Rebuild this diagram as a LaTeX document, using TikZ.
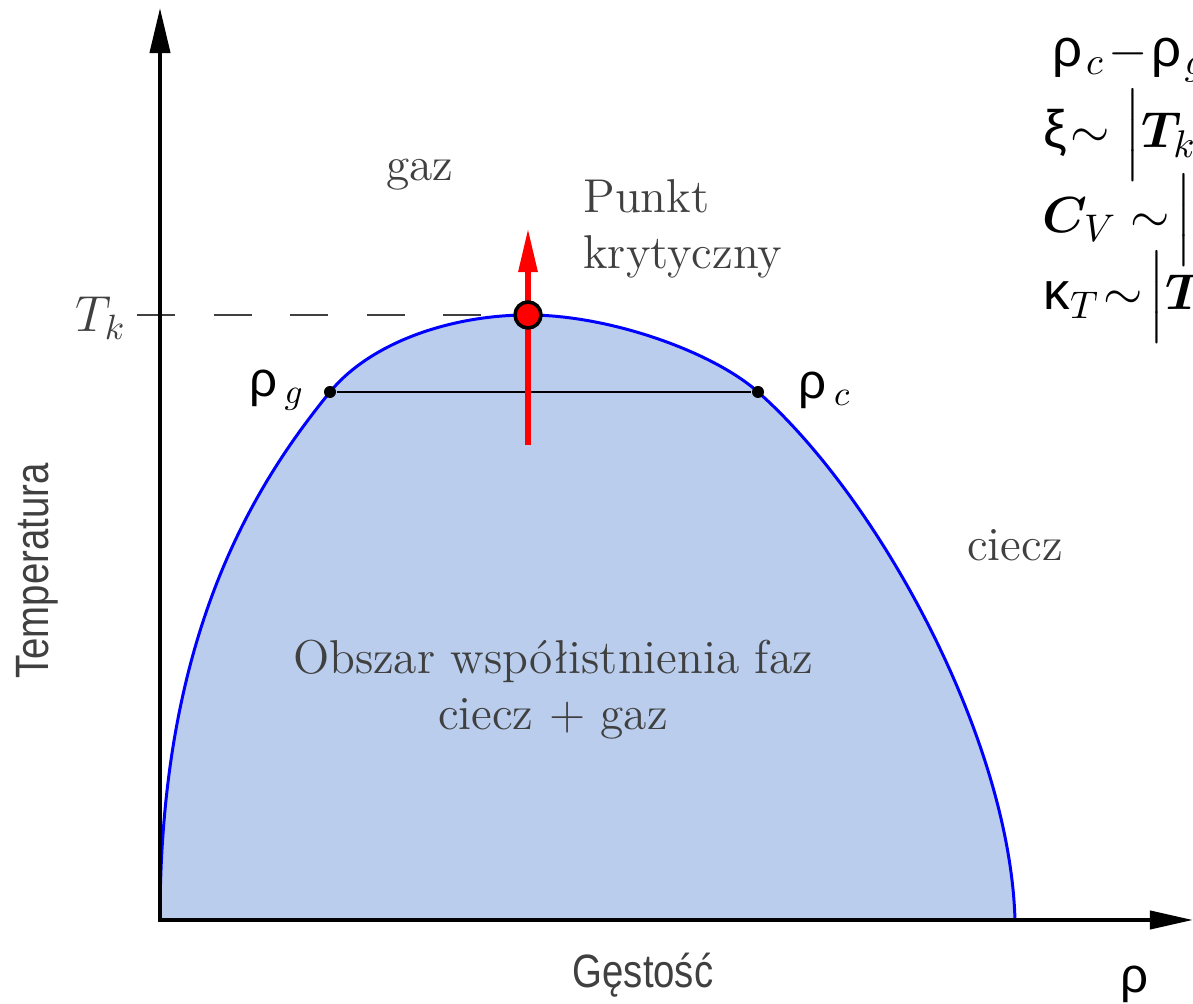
\documentclass[tikz,border=0pt]{standalone}
\usepackage{fontspec}
\usepackage{amsmath}
\usepackage{bm}
\usepackage{xcolor}
\usepackage{tikz}
\usetikzlibrary{positioning, arrows.meta}
\newfontfamily\narrowsans[FakeStretch=0.82]{Liberation Sans}
\newfontfamily\greekfont{Liberation Sans}
\definecolor{phaseblue}{HTML}{BACDEC}
\definecolor{textgray}{HTML}{404040}

\begin{document}
\begin{tikzpicture}[x=0.01cm, y=-0.01cm,
    region/.style={text=textgray, font=\fontsize{13.5}{16}\selectfont, align=center},
    axislabel/.style={text=textgray, font=\narrowsans\fontsize{13.3}{16}\selectfont},
    rholabel/.style={font=\fontsize{14}{17}\selectfont},
    law/.style={anchor=base west, inner sep=0pt, font=\fontsize{15}{18}\selectfont},
    enddot/.style={circle, fill=black, minimum size=0.12cm, inner sep=0pt},
    critdot/.style={circle, fill=red, draw=black, line width=1pt, minimum size=0.26cm, inner sep=0pt}]
  \useasboundingbox (0,0) rectangle (1193,1004);

  % coexistence region
  \path[fill=phaseblue, draw=blue, line width=0.85pt]
    (160,920) .. controls (160,640) and (250,490) .. (330,392)
    .. controls (370,343) and (450,315) .. (528,315)
    .. controls (610,315) and (713,352) .. (758,392)
    .. controls (880,500) and (1010,740) .. (1015,920);

  \coordinate (origin) at (160,920);
  \coordinate (ytop) at (160,8);
  \coordinate (xend) at (1193,920);
  \coordinate (tick) at (137,315);
  \coordinate (redbase) at (528,445);
  \coordinate (redtip) at (528,228);

  \node[enddot] (rhog) at (330,392) {};
  \node[enddot] (rhoc) at (758,392) {};
  \draw[line width=0.6pt] (rhog) -- (rhoc);

  \draw[textgray, line width=0.5pt, dash pattern=on 0.38cm off 0.385cm] (tick) -- (520,315);
  \draw[{Triangle[length=4.5mm, width=2mm]}-{Triangle[length=4.3mm, width=1.8mm]}, line width=1.15pt]
    (ytop) -- (origin) -- (xend);

  \draw[red, line width=1.7pt, -{Triangle[length=4.4mm, width=1.8mm]}] (redbase) -- (redtip);
  \node[critdot] (crit) at (528,315) {};

  \node[text=textgray, font=\fontsize{14.5}{17}\selectfont] (tk) at (101,318) {$T_k$};
  \node[rholabel] (rhoglabel) at (277,390) {{\greekfont ρ}\hspace{2pt}${}_{g}$};
  \node[rholabel] (rhoclabel) at (825,390) {{\greekfont ρ}\hspace{2pt}${}_{c}$};

  \node[region] (gas) at (420,175) {gaz};
  \node[region, align=left, anchor=west] (critlabel) at (571,229) {Punkt\\krytyczny};
  \node[region] (liquid) at (1015,545) {ciecz};
  \node[region] (coex) at (553,690) {Obszar współistnienia faz\\ciecz + gaz};

  \node[axislabel, rotate=90] (ylabel) at (37,571) {Temperatura};
  \node[axislabel, anchor=base] (xlabel) at (643,988) {Gęstość};
  \node[rholabel, anchor=base] (rhoaxis) at (1134,993) {\greekfont ρ};

  \node[law] (lawrho) at (1052,67) {{\greekfont ρ}\hspace{1pt}${}_{c}$\hspace{1pt}$-$\hspace{1pt}{\greekfont ρ}\hspace{1pt}${}_{g}$\hspace{3pt}$\sim\Bigl|\bm{T}_k-\bm{T}\Bigr|^{\beta}$};
  \node[law] (lawxi) at (1043,148) {{\greekfont ξ}\hspace{1pt}$\sim\Bigl|\bm{T}_{k}-\bm{T}\Bigr|^{-\nu}$};
  \node[law] (lawcv) at (1042,233) {$\bm{C}_{V}\sim\!\Bigl|\bm{T}_k-\bm{T}\Bigr|^{-\alpha}$};
  \node[law] (lawkappa) at (1043,310) {{\greekfont κ}${}_{T}$\hspace{1pt}$\sim\!\Bigl|\bm{T}_k-\bm{T}\Bigr|^{-\gamma}$};
\end{tikzpicture}
\end{document}
